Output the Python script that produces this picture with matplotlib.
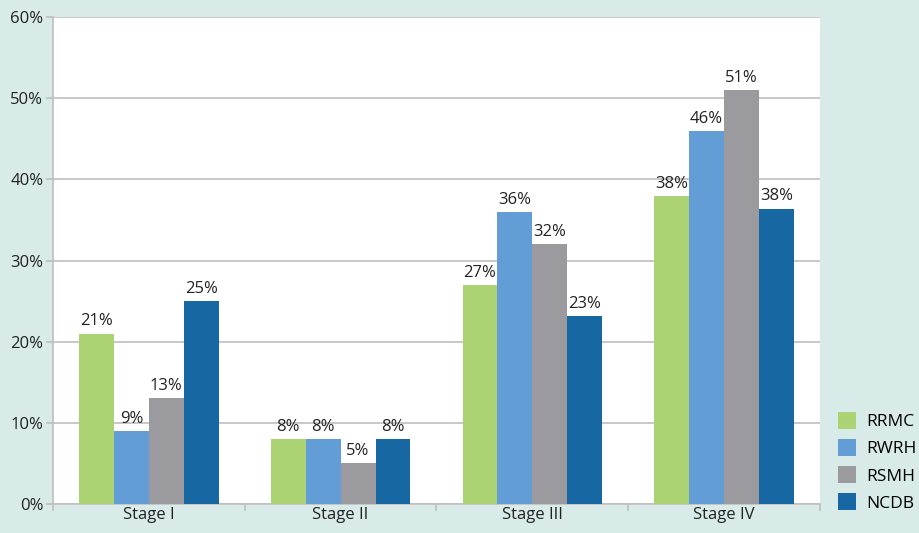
import numpy as np
import matplotlib.pyplot as plt

# Data
stages = ["Stage I", "Stage II", "Stage III", "Stage IV"]
rrmc = [21, 8, 27, 38]
rwrh = [9, 8, 36, 46]
rsmh = [13, 5, 32, 51]
ncdb = [25, 8, 23.2, 36.4]
rrmc_labels = ["21%", "8%", "27%", "38%"]
rwrh_labels = ["9%", "8%", "36%", "46%"]
rsmh_labels = ["13%", "5%", "32%", "51%"]
ncdb_labels = ["25%", "8%", "23%", "38%"]
yticks = [0, 10, 20, 30, 40, 50, 60]

series = [("RRMC", rrmc, rrmc_labels, "#acd373"),
          ("RWRH", rwrh, rwrh_labels, "#629ed5"),
          ("RSMH", rsmh, rsmh_labels, "#9b9a9f"),
          ("NCDB", ncdb, ncdb_labels, "#1767a3")]

plt.rcParams["font.family"] = ["Open Sans", "DejaVu Sans"]
bg = "#d8ebe8"
grid_c = "#bfbfbf"

fig = plt.figure(figsize=(9.2, 5.33), dpi=100, facecolor=bg)
ax = fig.add_axes([0.0576, 0.0544, 0.8337, 0.9137])
ax.set_facecolor("white")

x = np.arange(len(stages))
w = 0.182
offsets = (np.arange(4) - 1.5) * w
for (name, vals, labs, col), off in zip(series, offsets):
    bars = ax.bar(x + off, vals, w, color=col, label=name, zorder=3)
    for b, lab in zip(bars, labs):
        ax.text(b.get_x() + b.get_width() / 2, b.get_height() + 0.5, lab,
                ha="center", va="bottom", fontsize=12, color="#222222", zorder=4)

ax.set_xlim(-0.5, 3.5)
ax.set_ylim(0, 60)
ax.set_yticks(yticks)
ax.set_yticklabels([f"{t}%" for t in yticks], fontsize=12, color="#222222")
ax.yaxis.grid(True, color=grid_c, linewidth=1.2, zorder=0)
ax.set_axisbelow(True)

ax.set_xticks(x)
ax.set_xticklabels(stages, fontsize=12, color="#222222")
ax.set_xticks(np.arange(-0.5, 4.0, 1.0), minor=True)
ax.tick_params(axis="x", which="major", length=0, pad=2)
ax.tick_params(axis="x", which="minor", length=5, color=grid_c, width=1.2)
ax.tick_params(axis="y", length=5, color=grid_c, width=1.2, pad=2)

for s in ["top", "right"]:
    ax.spines[s].set_visible(False)
for s in ["left", "bottom"]:
    ax.spines[s].set_color(grid_c)
    ax.spines[s].set_linewidth(1.2)

fig.legend(loc="lower left", bbox_to_anchor=(0.911, 0.04), frameon=False,
           fontsize=12.5, handlelength=1.05, handleheight=1.15,
           labelspacing=0.5, handletextpad=0.55, borderpad=0.0,
           borderaxespad=0.0)

fig.savefig("out.png", dpi=100, facecolor=bg)
